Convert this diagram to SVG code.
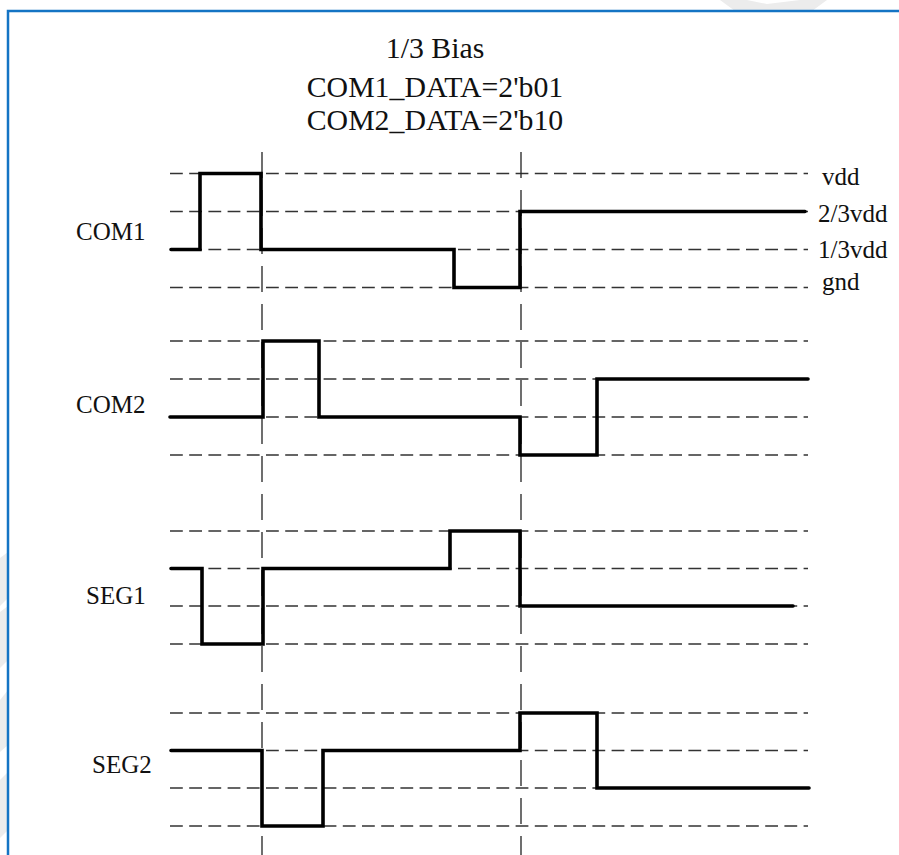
<svg xmlns="http://www.w3.org/2000/svg" width="899" height="855" viewBox="0 0 899 855">
<style>
.t{font-family:"Liberation Serif","Times New Roman",serif;fill:#111}
.title{font-size:29.8px;text-anchor:middle}
.lbl{font-size:25px}
.rl{font-size:25px}
.grid{stroke:#333;stroke-width:1.5;stroke-dasharray:12.8 6.4;fill:none}
.vl{stroke:#222;stroke-width:1.3;stroke-dasharray:26 12;fill:none}
.wave{stroke:#000;stroke-width:3.6;fill:none;stroke-linejoin:miter;stroke-linecap:round}
.wm{fill:#ececec}
</style>
<rect width="899" height="855" fill="#fff"/>
<g id="watermark">
<polygon class="wm" points="720,0 747,0 767,4 800,0 827,0 812,11 735,11"/>
<polygon class="wm" points="0,558 8,552 8,598 0,606"/>
<polygon class="wm" points="0,612 8,606 8,660 0,668"/>
<polygon class="wm" points="0,700 8,690 8,745 0,752"/>
<polygon class="wm" points="0,780 8,772 8,830 0,838"/>
</g>
<path d="M8,855 V11 H899" fill="none" stroke="#1474c4" stroke-width="2.5"/>
<g id="title">
<text class="t title" x="435" y="58">1/3 Bias</text>
<text class="t title" x="435" y="97">COM1_DATA=2'b01</text>
<text class="t title" x="435" y="130">COM2_DATA=2'b10</text>
</g>
<g id="grid">
<path class="grid" d="M170,173.5H808M170,211.5H808M170,249.5H808M170,287.5H808"/>
<path class="grid" d="M170,341H808M170,379H808M170,417H808M170,455H808"/>
<path class="grid" d="M170,531H808M170,568.5H808M170,606H808M170,644H808"/>
<path class="grid" d="M170,713H808M170,750.5H808M170,788H808M170,826H808"/>
</g>
<g id="connectors">
<line class="vl" x1="262" y1="152" x2="262" y2="855"/>
<line class="vl" x1="521" y1="152" x2="521" y2="855"/>
</g>
<g id="level-labels">
<text class="t rl" x="822" y="185">vdd</text>
<text class="t rl" x="818" y="222">2/3vdd</text>
<text class="t rl" x="818" y="258">1/3vdd</text>
<text class="t rl" x="822" y="290">gnd</text>
</g>
<g id="COM1">
<text class="t lbl" x="76" y="240">COM1</text>
<path class="wave" d="M171,249.5H200V173.5H261V249.5H454V287.5H520V211.5H805"/>
</g>
<g id="COM2">
<text class="t lbl" x="76" y="413">COM2</text>
<path class="wave" d="M170,417H263V341H319V417H520V455H597V379H808"/>
</g>
<g id="SEG1">
<text class="t lbl" x="86" y="604">SEG1</text>
<path class="wave" d="M171,568.5H202V644H263V568.5H450V531H520V606H793"/>
</g>
<g id="SEG2">
<text class="t lbl" x="92" y="773">SEG2</text>
<path class="wave" d="M171,750.5H262V826H323V750.5H520V713H597V788H809"/>
</g>
</svg>
